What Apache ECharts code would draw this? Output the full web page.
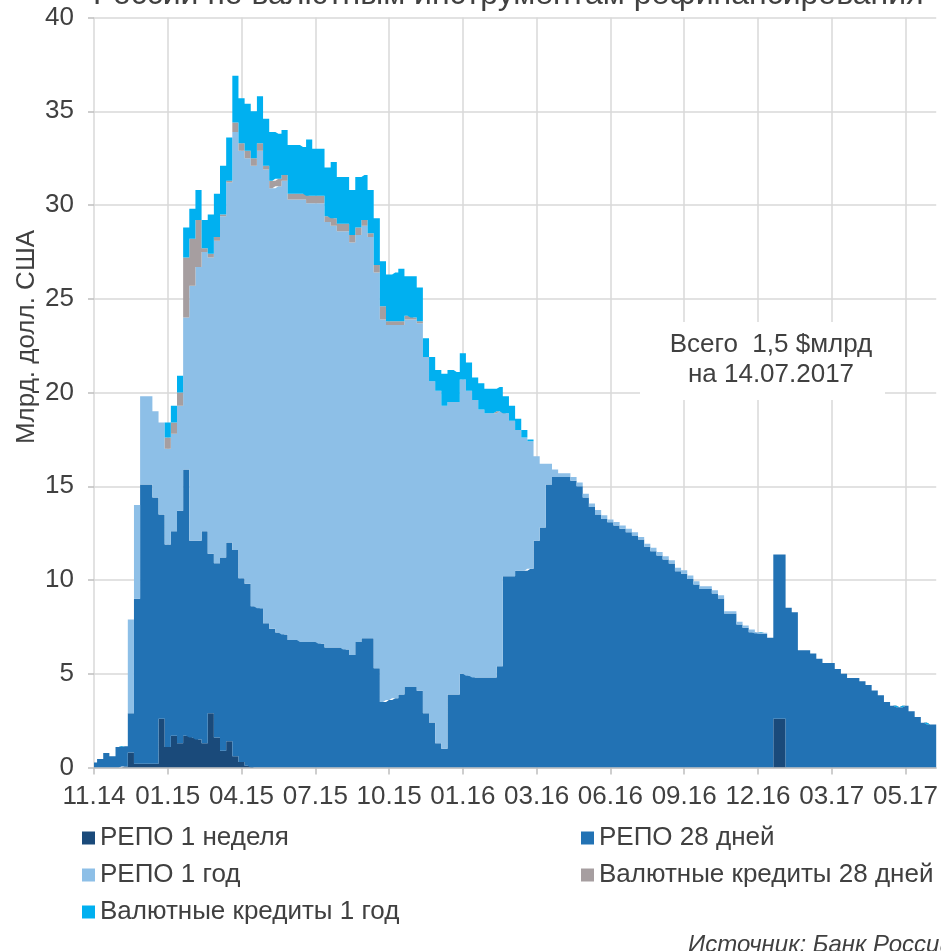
<!DOCTYPE html>
<html><head><meta charset="utf-8">
<script src="https://cdn.jsdelivr.net/npm/echarts@6/dist/echarts.min.js"></script>
<style>html,body{margin:0;padding:0;background:#fff}#c{width:941px;height:951px}</style>
</head><body><div id="c"></div>
<script>
// Tick labels: one every 12 weekly points
const tickLabels = ['11.14','01.15','04.15','07.15','10.15','01.16','03.16','06.16','09.16','12.16','03.17','05.17'];

// Weekly values, bn USD (138 points, Nov 2014 - Jul 2017)
const repo1w = [
  0, 0, 0, 0, 0, 0.05, 0.8, 0.2, 0.2, 0.2, 0.2, 2.6,
  1.1, 1.7, 1.3, 1.7, 1.6, 1.5, 1.3, 2.9, 1.6, 0.9, 1.4, 0.6,
  0.3, 0.1, 0, 0, 0, 0, 0, 0, 0, 0, 0, 0,
  0, 0, 0, 0, 0, 0, 0, 0, 0, 0, 0, 0,
  0, 0, 0, 0, 0, 0, 0, 0, 0, 0, 0, 0,
  0, 0, 0, 0, 0, 0, 0, 0, 0, 0, 0, 0,
  0, 0, 0, 0, 0, 0, 0, 0, 0, 0, 0, 0,
  0, 0, 0, 0, 0, 0, 0, 0, 0, 0, 0, 0,
  0, 0, 0, 0, 0, 0, 0, 0, 0, 0, 0, 0,
  0, 0, 0, 2.6, 2.6, 0, 0, 0, 0, 0, 0, 0,
  0, 0, 0, 0, 0, 0, 0, 0, 0, 0, 0, 0,
  0, 0, 0, 0, 0, 0
];
const repo28d = [
  0.27, 0.45, 0.78, 0.6, 1.1, 1.09, 2.1, 8.8, 14.9, 14.9, 14.2, 10.9,
  10.8, 10.9, 12.4, 14.2, 10.5, 10.6, 11.3, 8.5, 9.3, 10.3, 10.6, 11.0,
  9.8, 9.7, 8.6, 8.5, 7.7, 7.4, 7.2, 7.1, 6.8, 6.8, 6.7, 6.7,
  6.7, 6.6, 6.4, 6.4, 6.4, 6.3, 6.0, 6.7, 6.9, 6.9, 5.3, 3.5,
  3.6, 3.7, 3.9, 4.3, 4.3, 4.1, 2.9, 2.4, 1.3, 1.0, 3.9, 3.9,
  5.0, 4.9, 4.8, 4.8, 4.8, 4.8, 5.4, 10.2, 10.2, 10.5, 10.5, 10.6,
  12.1, 12.8, 15.1, 15.5, 15.5, 15.5, 15.3, 15.0, 14.4, 13.9, 13.5, 13.26,
  13.08, 12.91, 12.73, 12.55, 12.37, 12.16, 11.77, 11.54, 11.31, 11.09, 10.88, 10.47,
  10.34, 10.06, 9.76, 9.52, 9.52, 9.28, 9.01, 8.21, 8.21, 7.63, 7.45, 7.22,
  7.15, 7.14, 6.92, 8.76, 8.76, 8.52, 8.28, 6.26, 6.26, 6.08, 5.8, 5.58,
  5.58, 5.26, 5.0, 4.78, 4.78, 4.6, 4.4, 4.11, 3.86, 3.5, 3.3, 3.22,
  3.3, 3.0, 2.69, 2.39, 2.3, 2.3
];
const repo1y = [
  0, 0, 0, 0, 0, 0, 5.0, 5.0, 4.7, 4.7, 4.6, 4.9,
  5.1, 5.2, 5.6, 8.1, 13.6, 14.6, 14.9, 15.8, 17.2, 18.2, 19.2, 22.3,
  22.8, 22.7, 23.5, 24.4, 24.2, 23.5, 23.8, 24.2, 23.5, 23.5, 23.6, 23.4,
  23.4, 23.5, 22.7, 22.5, 22.2, 22.3, 22.0, 21.7, 22.0, 21.4, 21.1, 20.4,
  20.0, 19.9, 19.7, 19.6, 19.6, 19.6, 19.0, 18.2, 18.8, 18.3, 15.6, 15.6,
  15.7, 15.2, 14.8, 14.3, 14.1, 14.1, 13.6, 8.7, 8.3, 7.5, 7.1, 6.8,
  4.5, 3.4, 1.1, 0.4, 0.2, 0.2, 0.2, 0.2, 0.2, 0.18, 0.23, 0.2,
  0.15, 0.19, 0.18, 0.18, 0.18, 0.14, 0.16, 0.18, 0.19, 0.18, 0.18, 0.18,
  0.18, 0.18, 0.18, 0.15, 0.15, 0.18, 0.18, 0.13, 0.13, 0.14, 0.12, 0.14,
  0.07, 0.05, 0, 0, 0, 0, 0, 0, 0, 0, 0, 0,
  0, 0, 0, 0, 0, 0, 0, 0, 0, 0, 0, 0,
  0, 0, 0, 0, 0, 0
];
const fx28d = [
  0, 0, 0, 0, 0, 0, 0, 0, 0, 0, 0, 0,
  0.6, 0.6, 0.7, 3.2, 2.5, 2.5, 0.2, 0.2, 0.2, 0.1, 0.1, 0.5,
  0.4, 0.4, 0.4, 0.4, 0.2, 0.4, 0.4, 0.3, 0.3, 0.3, 0.3, 0.4,
  0.4, 0.4, 0.3, 0.4, 0.4, 0.4, 0.4, 0.4, 0.3, 0.2, 0.4, 0.7,
  0.2, 0.2, 0.2, 0.2, 0.1, 0.1, 0, 0, 0, 0, 0, 0,
  0, 0, 0, 0, 0, 0, 0, 0, 0, 0, 0, 0,
  0, 0, 0, 0, 0, 0, 0, 0, 0, 0, 0, 0,
  0, 0, 0, 0, 0, 0, 0, 0, 0, 0, 0, 0,
  0, 0, 0, 0, 0, 0, 0, 0, 0, 0, 0, 0,
  0, 0, 0, 0, 0, 0, 0, 0, 0, 0, 0, 0,
  0, 0, 0, 0, 0, 0, 0, 0, 0, 0, 0, 0,
  0, 0, 0, 0, 0, 0
];
const fx1y = [
  0, 0, 0, 0, 0, 0, 0, 0, 0, 0, 0, 0,
  0.8, 0.9, 0.9, 1.6, 1.6, 1.6, 1.5, 2.1, 2.3, 2.6, 2.3, 2.5,
  2.4, 2.5, 2.5, 2.5, 2.5, 2.6, 2.4, 2.4, 2.6, 2.6, 2.5, 3.0,
  2.5, 2.5, 2.6, 3.0, 2.5, 2.5, 2.4, 2.7, 2.4, 2.3, 2.5, 2.4,
  2.5, 2.6, 2.8, 2.1, 2.2, 1.8, 1.0, 1.3, 1.1, 1.7, 1.7, 1.6,
  1.4, 1.5, 1.2, 1.4, 1.3, 1.3, 1.3, 0.9, 0.8, 0.6, 0.4, 0.1,
  0, 0, 0, 0, 0, 0, 0, 0, 0, 0, 0, 0,
  0, 0, 0, 0, 0, 0, 0, 0, 0, 0, 0, 0,
  0, 0, 0, 0, 0, 0, 0, 0, 0, 0, 0, 0,
  0, 0, 0, 0, 0, 0, 0, 0, 0, 0, 0, 0,
  0, 0, 0, 0, 0, 0, 0, 0, 0, 0, 0, 0,
  0, 0, 0, 0, 0, 0
];

const seriesNames = ['РЕПО 1 неделя', 'РЕПО 28 дней', 'РЕПО 1 год', 'Валютные кредиты 28 дней', 'Валютные кредиты 1 год'];
const seriesColors = ['#1a4a7a', '#2272b4', '#8dbfe7', '#a69ea0', '#00b0f0'];
const seriesData = [repo1w, repo28d, repo1y, fx28d, fx1y];

const FONT = '"Liberation Sans", Arial, sans-serif';
const TXT = '#404040';
const categories = repo28d.map((_, i) => String(i));
const every12 = (i) => i % 12 === 0;

const chart = echarts.init(document.getElementById('c'), null, { renderer: 'canvas' });
chart.setOption({
  animation: false,
  textStyle: { fontFamily: FONT },
  grid: { left: 94, top: 17.5, width: 847, height: 750, containLabel: false },
  xAxis: {
    type: 'category', data: categories, boundaryGap: false,
    axisLine: { lineStyle: { color: '#bfbfbf', width: 1.5 } },
    axisTick: { show: true, interval: every12, length: 7, lineStyle: { color: '#bfbfbf', width: 1.5 } },
    axisLabel: { interval: every12, formatter: (v, i) => tickLabels[i / 12], fontSize: 26, color: TXT, margin: 16, fontFamily: FONT },
    splitLine: { show: true, interval: every12, lineStyle: { color: '#d9d9d9', width: 1.5 } }
  },
  yAxis: {
    type: 'value', min: 0, max: 40, interval: 5,
    axisLine: { show: false },
    axisTick: { show: true, length: 6, lineStyle: { color: '#bfbfbf', width: 1.5 } },
    axisLabel: { fontSize: 26, color: TXT, margin: 20, fontFamily: FONT },
    splitLine: { lineStyle: { color: '#d9d9d9', width: 1.5 } }
  },
  legend: [
    { data: [seriesNames[0], seriesNames[2], seriesNames[4]], orient: 'vertical', left: 77, top: 820,
      icon: 'rect', itemWidth: 13, itemHeight: 13, itemGap: 11, selectedMode: false,
      textStyle: { fontSize: 26, color: TXT, fontFamily: FONT, lineHeight: 26 } },
    { data: [seriesNames[1], seriesNames[3]], orient: 'vertical', left: 576, top: 820,
      icon: 'rect', itemWidth: 13, itemHeight: 13, itemGap: 11, selectedMode: false,
      textStyle: { fontSize: 26, color: TXT, fontFamily: FONT, lineHeight: 26 } }
  ],
  graphic: [
    { type: 'text', x: 93, y: 11, z: 100, style: { text: 'России по валютным инструментам рефинансирования', font: '32px ' + FONT, fill: TXT, verticalAlign: 'bottom' } },
    { type: 'text', x: 27, y: 337, rotation: Math.PI / 2, z: 100, style: { text: 'Млрд. долл. США', font: '26px ' + FONT, fill: TXT, align: 'center', verticalAlign: 'middle' } },
    { type: 'rect', z: 100, shape: { x: 640, y: 322, width: 245, height: 78 }, style: { fill: '#ffffff' } },
    { type: 'text', x: 771, y: 345, z: 101, style: { text: 'Всего  1,5 $млрд', font: '26px ' + FONT, fill: TXT, align: 'center', verticalAlign: 'middle' } },
    { type: 'text', x: 771, y: 375, z: 101, style: { text: 'на 14.07.2017', font: '26px ' + FONT, fill: TXT, align: 'center', verticalAlign: 'middle' } },
    { type: 'text', x: 688, y: 933, z: 100, style: { text: 'Источник: Банк России', font: 'italic 24px ' + FONT, fill: TXT, verticalAlign: 'top' } }
  ],
  series: seriesNames.map((name, k) => ({
    name, type: 'line', stack: 'total', step: 'middle', data: seriesData[k],
    symbol: 'none', showSymbol: false, smooth: false,
    lineStyle: { width: 0, color: seriesColors[k] },
    itemStyle: { color: seriesColors[k] },
    areaStyle: { color: seriesColors[k], opacity: 1 },
    emphasis: { disabled: true }, silent: true
  }))
});
</script></body></html>
